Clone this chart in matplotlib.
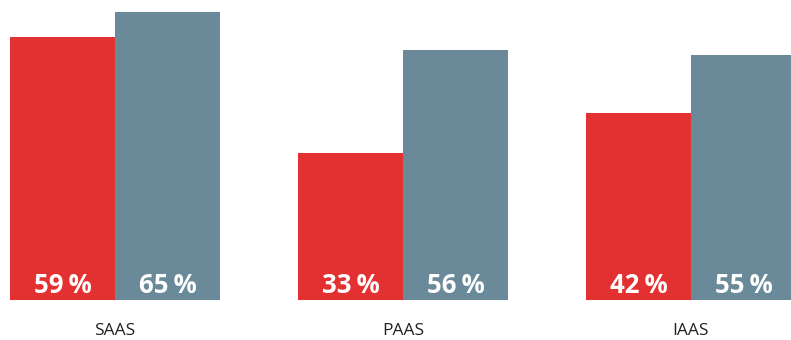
import matplotlib
matplotlib.use('Agg')
import matplotlib.pyplot as plt
import numpy as np

categories = ['SAAS', 'PAAS', 'IAAS']
series_red = [59, 33, 42]
series_grey = [65, 56, 55]

red = '#E23130'
grey = '#6A8A9A'

plt.rcParams['font.family'] = ['Open Sans', 'DejaVu Sans']

fig = plt.figure(figsize=(7.91, 3.40), dpi=100)
ax = fig.add_axes([0, 40 / 340, 1, 288 / 340])

x = np.arange(len(categories))
w = 105 / 288
ax.bar(x - w / 2, series_red, width=w, color=red)
ax.bar(x + w / 2, series_grey, width=w, color=grey)

ax.set_xlim(-115 / 288, (791 - 115) / 288)
ax.set_ylim(0, 64.6)
ax.axis('off')

# value labels inside the bars, near the baseline
for xs, vals in [(x - w / 2, series_red), (x + w / 2, series_grey)]:
    for xi, v in zip(xs, vals):
        ax.annotate(f'{v}\u2009%', xy=(xi, 0), xytext=(0, 10.5), textcoords='offset points',
                    ha='center', va='center', color='white', fontsize=18.5, fontweight='bold')

# category labels under each group
for xi, c in zip(x, categories):
    ax.annotate(c, xy=(xi, 0), xytext=(0, -25), textcoords='offset points',
                ha='center', va='baseline', color='#222222', fontsize=12.5,
                annotation_clip=False)

fig.savefig('out.png', dpi=100)
